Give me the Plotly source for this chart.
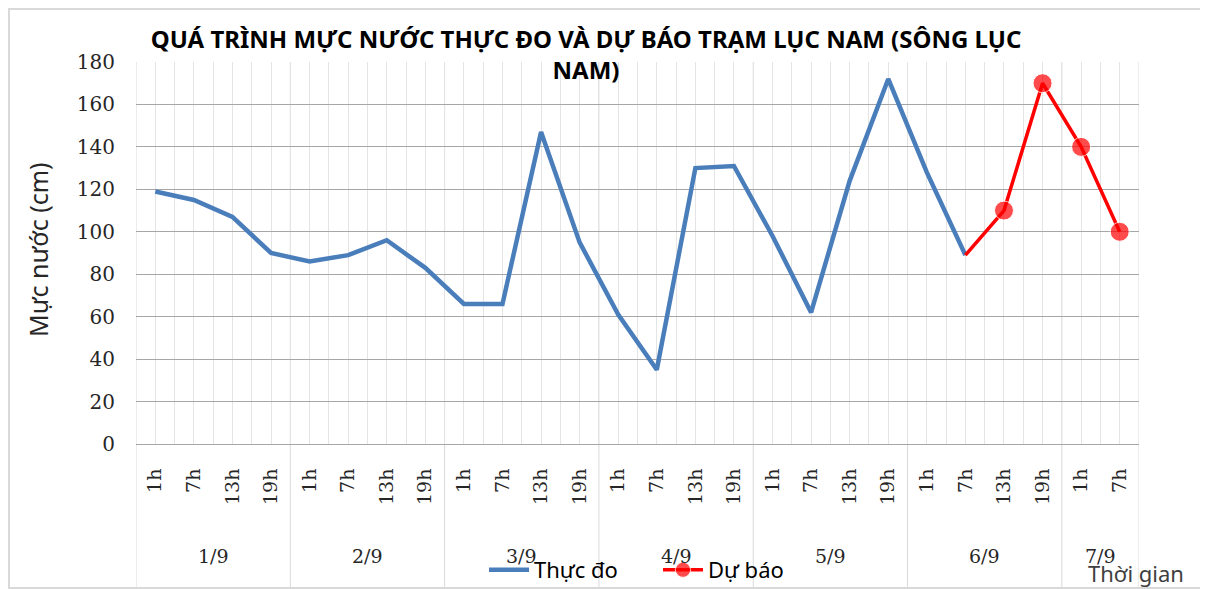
import plotly.graph_objects as go

# ---- data ----
days = ["1/9", "2/9", "3/9", "4/9", "5/9", "6/9", "7/9"]
day_sizes = [4, 4, 4, 4, 4, 4, 2]
hours = ["1h", "7h", "13h", "19h"] * 6 + ["1h", "7h"]
observed = [119, 115, 107, 90, 86, 89, 96, 83, 66, 66, 147, 95,
            61, 35, 130, 131, 98, 62, 124, 172, 128, 89]
forecast = [89, 110, 170, 140, 100]

title_text = "QUÁ TRÌNH MỰC NƯỚC THỰC ĐO VÀ DỰ BÁO TRẠM LỤC NAM (SÔNG LỤC<br>NAM)"

# ---- geometry (page body has an 8px margin) ----
OFF = 8
W, H = 1208 - OFF, 589 - OFF
L, T = 136 - OFF, 62 - OFF
R = W - (1139 - OFF)
B = H - (444 - OFF)
pw, ph = W - L - R, H - T - B


def px_x(p):
    return (p - OFF - L) / pw


def px_y(p):
    return (H - B - (p - OFF)) / ph


n = len(hours)
x_all = list(range(n))
obs_x = x_all[:len(observed)]
fc_x = x_all[len(observed) - 1:len(observed) - 1 + len(forecast)]

SANS = "Noto Sans"
SERIF = "DejaVu Serif"
TXT = "#262626"

fig = go.Figure()
fig.add_trace(go.Scatter(
    x=obs_x, y=observed, mode="lines", name="Thực đo",
    line=dict(color="#4a7ebb", width=4.5)))
fig.add_trace(go.Scatter(
    x=fc_x, y=forecast, mode="lines+markers", name="Dự báo",
    line=dict(color="#ff0000", width=3.5),
    marker=dict(color="#ff0000", size=[0] + [19] * (len(forecast) - 1))))

# day group labels & dividers
shapes = []
annotations = []
start = 0
for d, s in zip(days, day_sizes):
    center = start + (s - 1) / 2
    annotations.append(dict(
        x=center, xref="x", y=px_y(556), yref="paper", text=d,
        showarrow=False, font=dict(family=SERIF, size=19, color=TXT),
        xanchor="center", yanchor="middle"))
    shapes.append(dict(type="line", xref="x", yref="paper",
                       x0=start - 0.5, x1=start - 0.5, y0=px_y(589), y1=1,
                       line=dict(color="#d9d9d9", width=1), layer="below"))
    start += s
shapes.append(dict(type="line", xref="x", yref="paper",
                   x0=start - 0.5, x1=start - 0.5, y0=px_y(589), y1=1,
                   line=dict(color="#d9d9d9", width=1), layer="below"))
# outer chart frame
shapes.append(dict(type="rect", xref="paper", yref="paper",
                   x0=px_x(9), x1=px_x(1205), y0=px_y(588), y1=px_y(9),
                   line=dict(color="#d9d9d9", width=2), layer="below"))

annotations.append(dict(
    x=px_x(38), xref="paper", y=px_y(250), yref="paper", text="Mực nước (cm)",
    textangle=-90, showarrow=False, font=dict(family=SANS, size=25, color=TXT),
    xanchor="center", yanchor="middle"))
annotations.append(dict(
    x=px_x(1136), xref="paper", y=px_y(573), yref="paper", text="Thời gian",
    showarrow=False, font=dict(family=SANS, size=22, color="#404040"),
    xanchor="center", yanchor="middle"))

fig.update_layout(
    width=W, height=H,
    margin=dict(l=L, r=R, t=T, b=B, autoexpand=False),
    paper_bgcolor="white", plot_bgcolor="white",
    title=dict(text="<b>" + title_text + "</b>",
               x=(586 - OFF) / W, xref="container", xanchor="center",
               y=1 - 40 / H, yref="container", yanchor="top",
               font=dict(family=SANS, size=24, color="#000000")),
    xaxis=dict(
        range=[-0.5, n - 0.5], tickmode="array", tickvals=x_all, ticktext=hours,
        tickangle=-90, tickfont=dict(family=SERIF, size=19, color=TXT),
        showgrid=True, gridcolor="#e4e4e4", gridwidth=1,
        minor=dict(tick0=0.5, dtick=1, showgrid=True, gridcolor="#e4e4e4", gridwidth=1),
        showline=True, linecolor="#a6a6a6", linewidth=1,
        zeroline=False, ticks="", ticklabelstandoff=16, fixedrange=True),
    yaxis=dict(
        range=[0, 180], tickmode="linear", tick0=0, dtick=20,
        tickfont=dict(family=SERIF, size=20, color=TXT),
        showgrid=True, gridcolor="#a6a6a6", gridwidth=1,
        zeroline=False, ticks="", ticklabelstandoff=20, fixedrange=True),
    legend=dict(orientation="h", x=px_x(484), xanchor="left",
                y=px_y(570), yanchor="middle", bgcolor="rgba(0,0,0,0)",
                font=dict(family=SANS, size=22, color="#000000"),
                itemwidth=40, entrywidth=119, entrywidthmode="pixels",
                tracegroupgap=0),
    shapes=shapes, annotations=annotations,
)

fig.write_html("out.html")
